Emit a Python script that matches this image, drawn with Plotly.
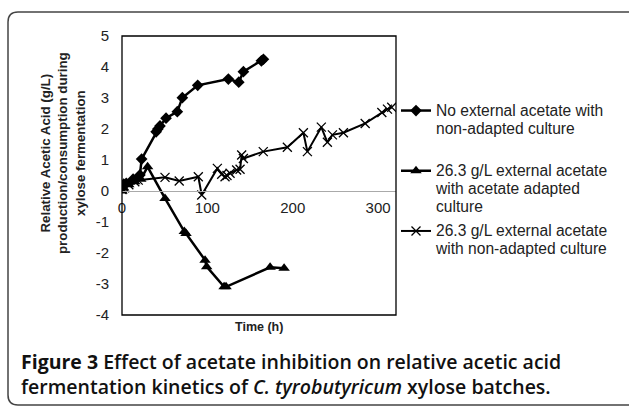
import plotly.graph_objects as go

# ---------------- data ----------------
t_none = [0, 2, 5, 13, 21, 23, 40, 42, 44.5, 51.6, 64.8, 70.7, 88.7, 124.6, 136.8, 142.2, 163.3, 165.7]
v_none = [0.15, 0.22, 0.25, 0.38, 0.52, 1.03, 1.91, 2.0, 2.1, 2.35, 2.56, 3.01, 3.41, 3.61, 3.51, 3.85, 4.2, 4.25]

t_adapt = [0, 2, 8, 15, 22, 30, 50.4, 73, 75, 97.3, 99.2, 119.6, 121.9, 173.5, 189.9]
v_adapt = [0, 0.1, 0.2, 0.3, 0.38, 0.78, -0.24, -1.31, -1.37, -2.23, -2.44, -3.09, -3.09, -2.46, -2.49]

t_nonad = [0, 3, 8, 15, 19, 50.4, 67, 89.4, 93.4, 111.7, 116.8, 120.7, 123, 126.6, 134.3, 138.3,
           140.2, 142.2, 165.5, 193.7, 212.5, 217.2, 233.5, 240.6, 246.5, 259.4, 284.9, 304.4, 311, 316]
v_nonad = [0.05, 0.1, 0.2, 0.3, 0.35, 0.44, 0.32, 0.46, -0.13, 0.73, 0.54, 0.46, 0.5, 0.57, 0.68, 0.7,
           1.16, 1.05, 1.27, 1.41, 1.88, 1.27, 2.06, 1.57, 1.81, 1.88, 2.18, 2.53, 2.64, 2.7]

legend_lines = [["No external acetate with", "non-adapted culture", "&nbsp;"],
                ["26.3 g/L external acetate", "with acetate adapted", "culture"],
                ["26.3 g/L external acetate", "with non-adapted culture", "&nbsp;"]]

x_ticks = [0, 100, 200, 300]
y_ticks = [5, 4, 3, 2, 1, 0, -1, -2, -3, -4]

# ---------------- geometry ----------------
Wf, Hf = 629, 406
L, R, T, B = 122, 396, 36, 315
PW, PH = R - L, B - T


def px(xp):
    return (xp - L) / PW


def py(yp):
    return (B - yp) / PH


def lg(lines):
    return "<br>".join(f'<span style="font-size:15.6px">{s}</span>' for s in lines)


AX = "Liberation Sans, Arial, sans-serif"

fig = go.Figure()
fig.add_trace(go.Scatter(x=t_none, y=v_none, name=lg(legend_lines[0]), mode="lines+markers",
                         legendgroup="g1",
                         line=dict(color="black", width=2.5),
                         marker=dict(symbol="diamond", size=9, color="black")))
fig.add_trace(go.Scatter(x=t_adapt, y=v_adapt, name=lg(legend_lines[1]), mode="lines+markers",
                         legendgroup="g2",
                         line=dict(color="black", width=2.5),
                         marker=dict(symbol="triangle-up", size=10, color="black")))
fig.add_trace(go.Scatter(x=t_nonad, y=v_nonad, name=lg(legend_lines[2]), mode="lines+markers",
                         legendgroup="g3",
                         line=dict(color="black", width=2),
                         marker=dict(symbol="x-thin", size=9, color="black",
                                     line=dict(color="black", width=1.3))))

fig.update_layout(
    width=Wf, height=Hf,
    margin=dict(l=L, r=Wf - R, t=T, b=Hf - B, pad=0, autoexpand=False),
    paper_bgcolor="white", plot_bgcolor="white",
    font=dict(family=AX, size=15, color="#222"),
    showlegend=True,
    legend=dict(x=px(396), y=py(95), xanchor="left", yanchor="top",
                font=dict(size=13.9, family=AX, color="#222"),
                itemwidth=30, tracegroupgap=3, valign="top",
                bgcolor="rgba(0,0,0,0)", traceorder="grouped"),
    xaxis=dict(range=[0, 321], tickvals=x_ticks, ticktext=[str(v) for v in x_ticks],
               showgrid=False, zeroline=False, showline=True, linecolor="#aaa", linewidth=1,
               anchor="free", position=py(191), ticks="", ticklabelstandoff=3,
               tickfont=dict(size=15), automargin=False),
    yaxis=dict(range=[-4, 5], tickvals=y_ticks, ticktext=[str(v) for v in y_ticks],
               showgrid=False, zeroline=False, showline=False, ticks="",
               ticklabelstandoff=12, tickfont=dict(size=15), automargin=False),
)

# plot-area border
fig.add_shape(type="rect", xref="paper", yref="paper", x0=0, x1=1, y0=0, y1=1,
              line=dict(color="black", width=1.3), layer="above")

# outer rounded frame
r = 10
x0, y0, x1, y1 = 8, 12, 640, 405
path = (f"M {px(x0)},{py(y0 + r)} Q {px(x0)},{py(y0)} {px(x0 + r)},{py(y0)} "
        f"L {px(x1)},{py(y0)} L {px(x1)},{py(y1)} L {px(x0 + r)},{py(y1)} "
        f"Q {px(x0)},{py(y1)} {px(x0)},{py(y1 - r)} Z")
fig.add_shape(type="path", xref="paper", yref="paper", path=path,
              line=dict(color="#444", width=1.5), fillcolor="rgba(0,0,0,0)")

# axis titles
fig.add_annotation(xref="paper", yref="paper", x=px(259), y=py(327),
                   text="<b>Time (h)</b>", showarrow=False,
                   font=dict(size=12.5, family=AX, color="#222"),
                   xanchor="center", yanchor="middle")
fig.add_annotation(xref="paper", yref="paper", x=px(63), y=py(153),
                   text="<b>Relative Acetic Acid (g/L)<br>production/consumption during<br>xylose fermentation</b>",
                   showarrow=False, textangle=-90,
                   font=dict(size=13.3, family=AX, color="#222"),
                   xanchor="center", yanchor="middle")

# caption
CAP = "Open Sans, Noto Sans, sans-serif"
fig.add_annotation(xref="paper", yref="paper", x=px(19), y=py(361),
                   text="<b>Figure 3</b> Effect of acetate inhibition on relative acetic acid",
                   showarrow=False, xanchor="left", yanchor="middle",
                   font=dict(size=19.5, family=CAP, color="#111", weight=600))
fig.add_annotation(xref="paper", yref="paper", x=px(19), y=py(386),
                   text="fermentation kinetics of <i>C. tyrobutyricum</i> xylose batches.",
                   showarrow=False, xanchor="left", yanchor="middle",
                   font=dict(size=19.5, family=CAP, color="#111", weight=600))

fig.write_html("out.html", post_script="document.body.style.margin='0';",
               config={"displayModeBar": False})
